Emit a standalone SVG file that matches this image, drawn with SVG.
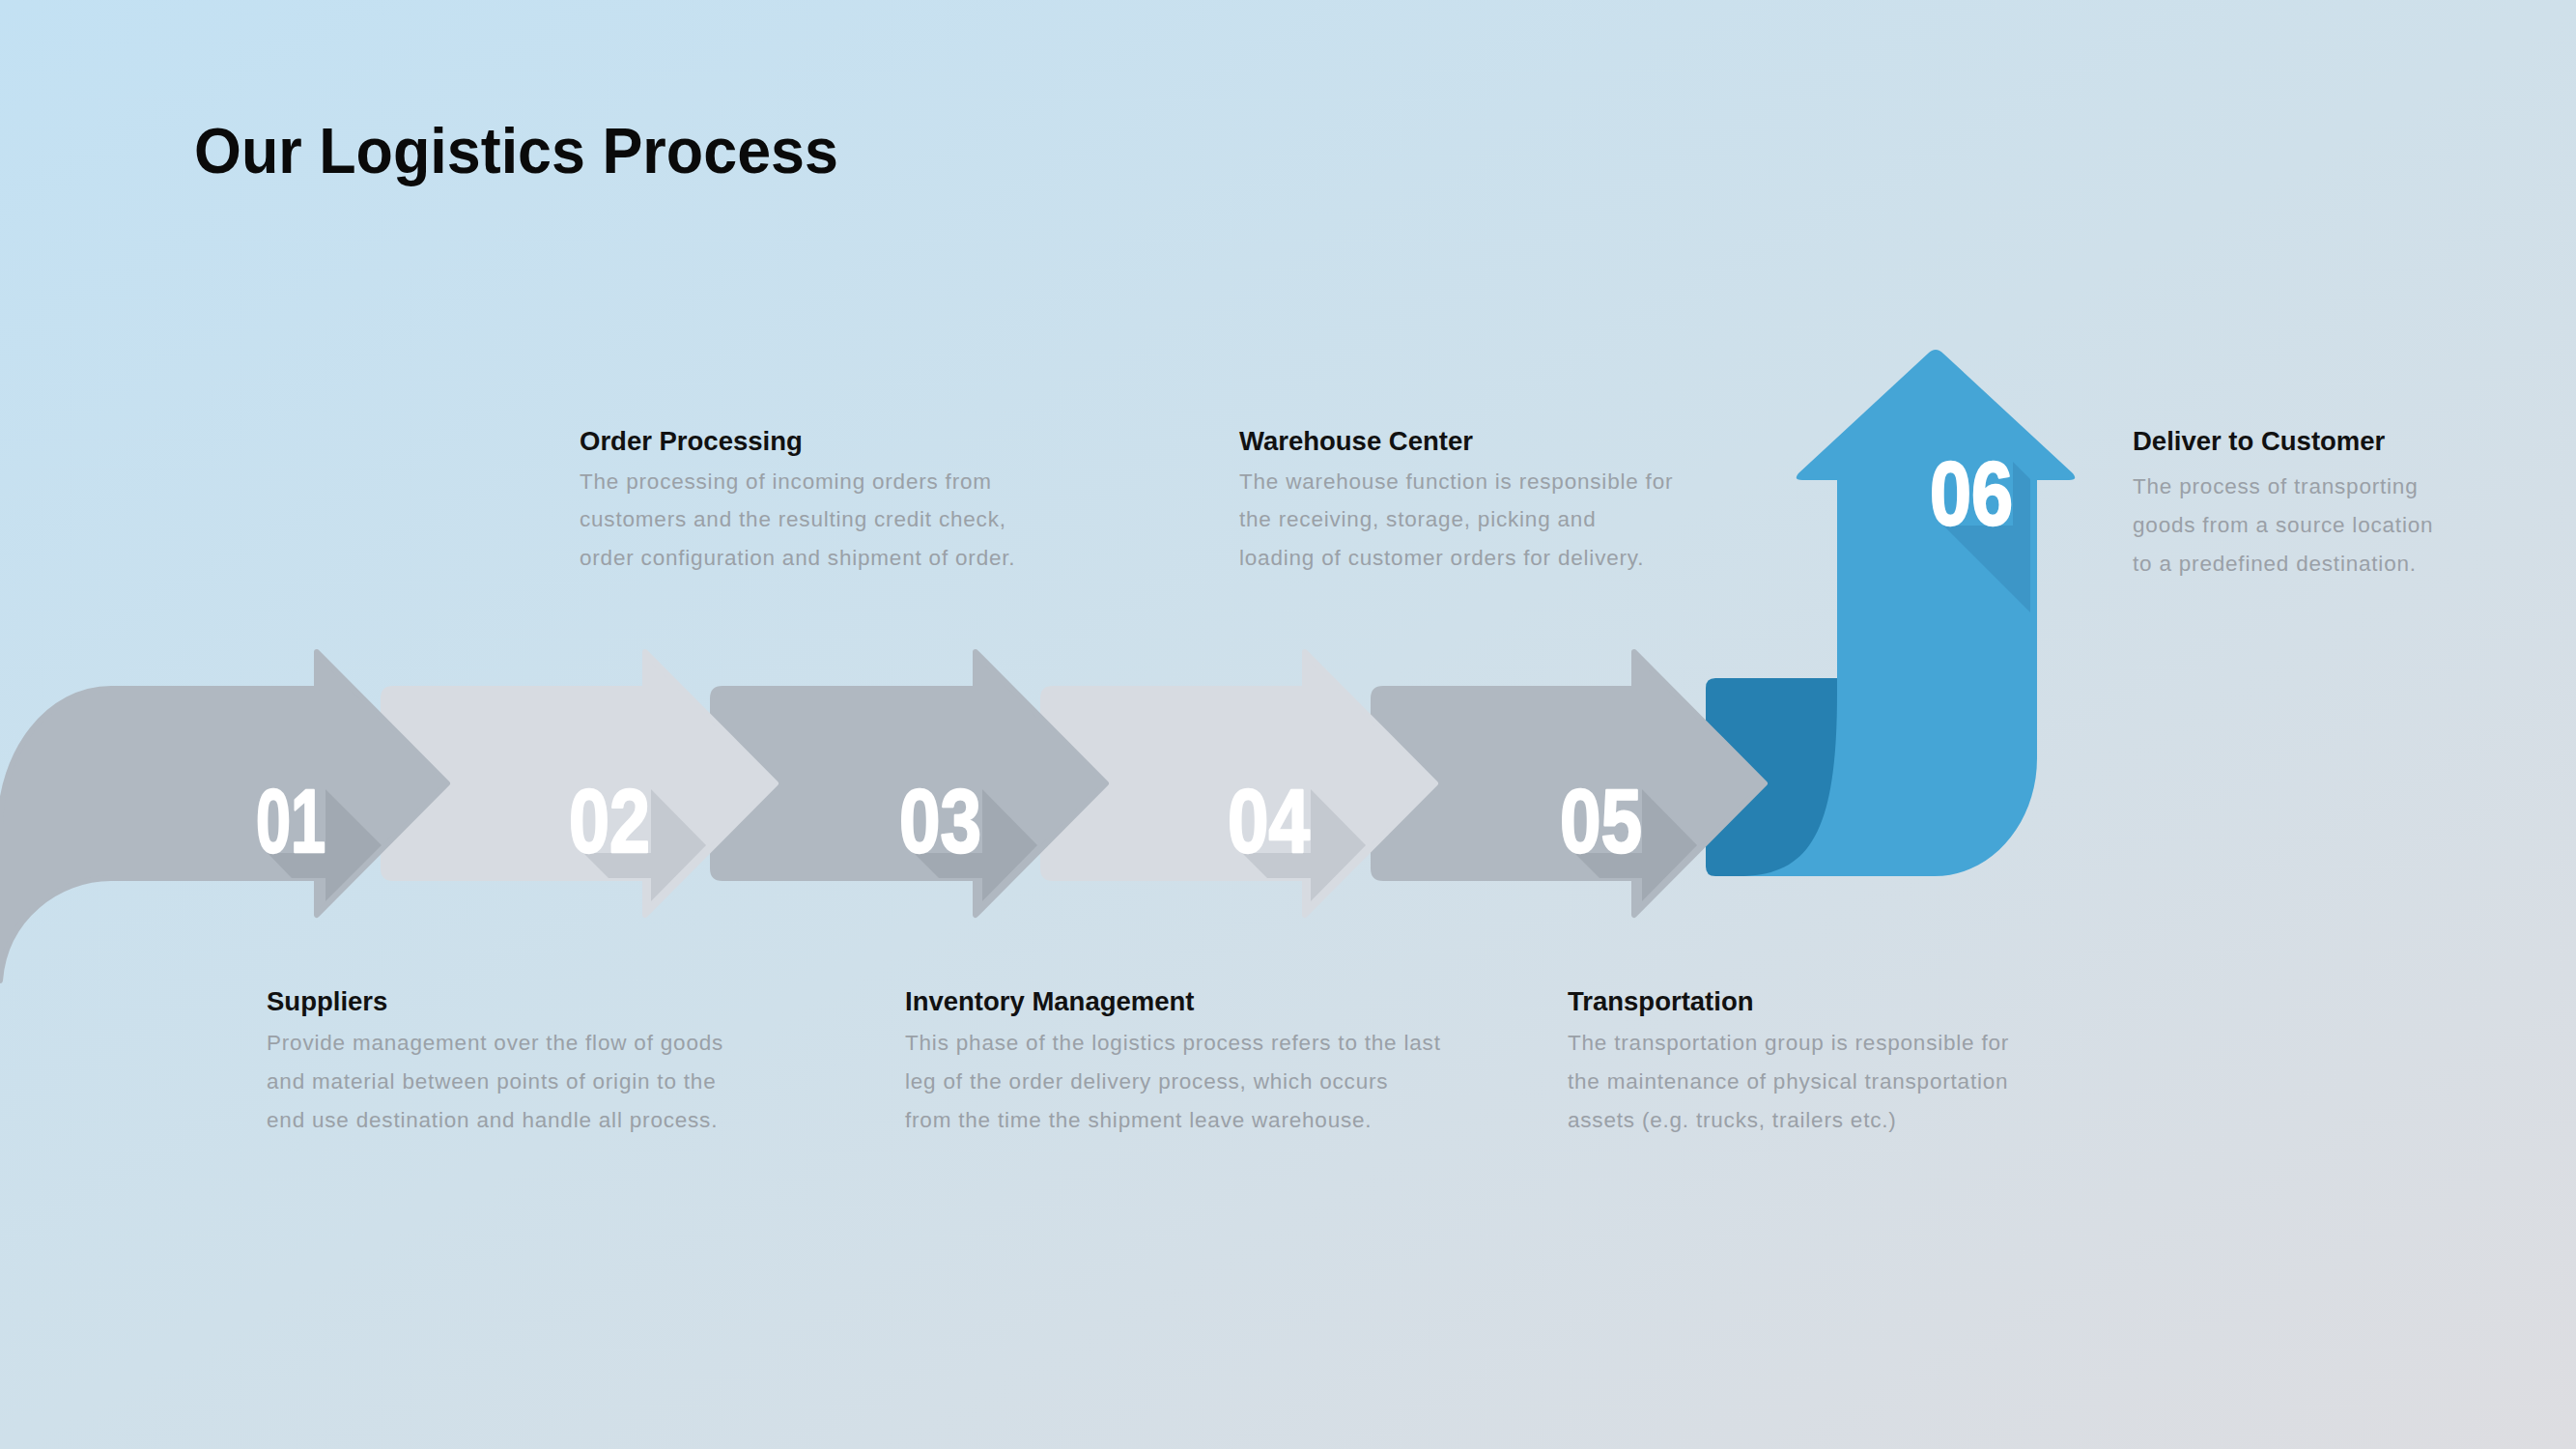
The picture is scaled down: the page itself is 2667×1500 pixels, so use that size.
<svg xmlns="http://www.w3.org/2000/svg" width="2667" height="1500" viewBox="0 0 2667 1500">
  <defs>
    <linearGradient id="bg" x1="0" y1="0" x2="1" y2="1">
      <stop offset="0" stop-color="#c3e1f3"/>
      <stop offset="0.5" stop-color="#cfe0ea"/>
      <stop offset="1" stop-color="#dddde1"/>
    </linearGradient>
  </defs>
  <style>
    .dark { fill: #b0b8c1; stroke: #b0b8c1; stroke-width: 6; stroke-linejoin: round; }
    .light { fill: #d7dbe1; stroke: #d7dbe1; stroke-width: 6; stroke-linejoin: round; }
    .dshadow { fill: #a1a9b2; }
    .lshadow { fill: #c4c9d0; }
    .num { font-family: "Liberation Sans Narrow", "Liberation Sans", Arial, sans-serif; font-weight: bold; font-size: 93px; fill: #ffffff; stroke: #ffffff; stroke-width: 2.5; stroke-linejoin: round; }
    .title { font-family: "Liberation Sans", Arial, sans-serif; font-weight: bold; font-size: 67px; fill: #0a0a0a; }
    .head { font-family: "Liberation Sans", Arial, sans-serif; font-weight: bold; font-size: 27.5px; fill: #111111; }
    .body { font-family: "Liberation Sans", Arial, sans-serif; font-size: 22.5px; letter-spacing: 0.8px; fill: #9aa0a7; }
  </style>

  <rect x="0" y="0" width="2667" height="1500" fill="url(#bg)"/>

  <text class="title" x="201" y="179" textLength="667" lengthAdjust="spacingAndGlyphs">Our Logistics Process</text>

  <!-- Step 06 (blue up arrow) -->
  <g id="step-06">
    <path d="M 1776,702 L 1912,702 L 1912,907 L 1776,907 Q 1766,907 1766,897 L 1766,712 Q 1766,702 1776,702 Z" fill="#2680b1"/>
    <path d="M 1996,366 Q 2004,358 2012,366 L 2146,490 Q 2152,497 2142,497 L 2109,497 L 2109,785 C 2109,852 2062,907 2003,907 L 1800,907 C 1875,907 1902,860 1902,717 L 1902,497 L 1866,497 Q 1856,497 1862,490 Z" fill="#45a5d6"/>
    <polygon points="2084,478 2102,496 2102,634 2012,544 2084,544" fill="#3d96c7"/>
    <text class="num" x="1998" y="543" textLength="86" lengthAdjust="spacingAndGlyphs">06</text>
    <text class="head" x="2208" y="466">Deliver to Customer</text>
    <text class="body" x="2208" y="511">The process of transporting</text>
    <text class="body" x="2208" y="551">goods from a source location</text>
    <text class="body" x="2208" y="591">to a predefined destination.</text>
  </g>

  <!-- Step 05 -->
  <g id="step-05">
    <path class="dark" d="M 1432,713 L 1692,713 L 1692,675 L 1827,811 L 1692,947 L 1692,909 L 1432,909 Q 1422,909 1422,899 L 1422,723 Q 1422,713 1432,713 Z"/>
    <polygon class="dshadow" points="1700,817 1757,875 1700,933 1700,909 1656,909 1630,883 1700,883"/>
    <text class="num" x="1615" y="882" textLength="85" lengthAdjust="spacingAndGlyphs">05</text>
    <text class="head" x="1623" y="1046">Transportation</text>
    <text class="body" x="1623" y="1087">The transportation group is responsible for</text>
    <text class="body" x="1623" y="1127">the maintenance  of physical transportation</text>
    <text class="body" x="1623" y="1167">assets (e.g. trucks, trailers etc.)</text>
  </g>

  <!-- Step 04 -->
  <g id="step-04">
    <path class="light" d="M 1090,713 L 1351,713 L 1351,675 L 1486,811 L 1351,947 L 1351,909 L 1090,909 Q 1080,909 1080,899 L 1080,723 Q 1080,713 1090,713 Z"/>
    <polygon class="lshadow" points="1357,817 1414,875 1357,933 1357,909 1312,909 1286,883 1357,883"/>
    <text class="num" x="1271" y="882" textLength="85" lengthAdjust="spacingAndGlyphs">04</text>
    <text class="head" x="1283" y="466">Warehouse Center</text>
    <text class="body" x="1283" y="506">The warehouse function is responsible for</text>
    <text class="body" x="1283" y="545">the receiving, storage, picking and</text>
    <text class="body" x="1283" y="585">loading of customer orders for delivery.</text>
  </g>

  <!-- Step 03 -->
  <g id="step-03">
    <path class="dark" d="M 748,713 L 1010,713 L 1010,675 L 1145,811 L 1010,947 L 1010,909 L 748,909 Q 738,909 738,899 L 738,723 Q 738,713 748,713 Z"/>
    <polygon class="dshadow" points="1017,817 1074,875 1017,933 1017,909 972,909 946,883 1017,883"/>
    <text class="num" x="931" y="882" textLength="85" lengthAdjust="spacingAndGlyphs">03</text>
    <text class="head" x="937" y="1046">Inventory Management</text>
    <text class="body" x="937" y="1087">This phase of the logistics process refers to the last</text>
    <text class="body" x="937" y="1127">leg of the order delivery process, which occurs</text>
    <text class="body" x="937" y="1167">from the time the shipment leave warehouse.</text>
  </g>

  <!-- Step 02 -->
  <g id="step-02">
    <path class="light" d="M 407,713 L 668,713 L 668,675 L 803,811 L 668,947 L 668,909 L 407,909 Q 397,909 397,899 L 397,723 Q 397,713 407,713 Z"/>
    <polygon class="lshadow" points="674,817 731,875 674,933 674,909 630,909 604,883 674,883"/>
    <text class="num" x="589" y="882" textLength="84" lengthAdjust="spacingAndGlyphs">02</text>
    <text class="head" x="600" y="466">Order Processing</text>
    <text class="body" x="600" y="506">The processing of incoming orders from</text>
    <text class="body" x="600" y="545">customers and the resulting credit check,</text>
    <text class="body" x="600" y="585">order configuration and shipment of order.</text>
  </g>

  <!-- Step 01 -->
  <g id="step-01">
    <path class="dark" d="M 0,1015 L 0,858 C 0,777 51,713 115,713 L 328,713 L 328,675 L 463,811 L 328,947 L 328,909 L 115,909 C 60,909 5,950 0,1015 Z"/>
    <polygon class="dshadow" points="337,817 395,875 337,933 337,909 302,909 277,883 337,883"/>
    <text class="num" x="265" y="882" textLength="72" lengthAdjust="spacingAndGlyphs">01</text>
    <text class="head" x="276" y="1046">Suppliers</text>
    <text class="body" x="276" y="1087">Provide management over the flow of goods</text>
    <text class="body" x="276" y="1127">and material between points of origin to the</text>
    <text class="body" x="276" y="1167">end use destination and handle all process.</text>
  </g>
</svg>
